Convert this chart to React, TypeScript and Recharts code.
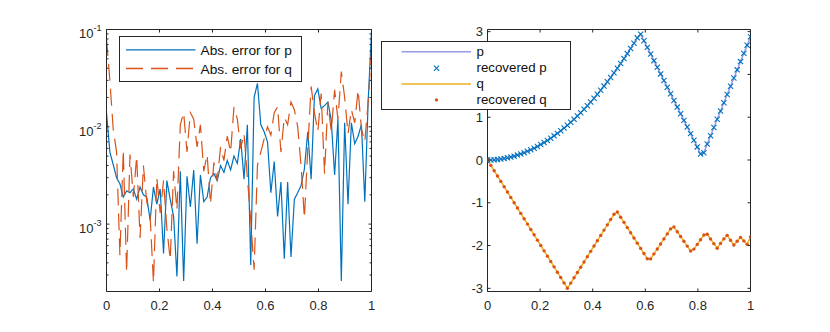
import React from 'react';
import { ComposedChart, Line, XAxis, YAxis, Legend } from 'recharts';

// ---- data ----
const xs = [
  0, 0.0127, 0.0253, 0.038, 0.0506, 0.0633, 0.0759, 0.0886, 0.1013, 0.1139,
  0.1266, 0.1392, 0.1519, 0.1646, 0.1772, 0.1899, 0.2025, 0.2152, 0.2278, 0.2405,
  0.2532, 0.2658, 0.2785, 0.2911, 0.3038, 0.3165, 0.3291, 0.3418, 0.3544, 0.3671,
  0.3797, 0.3924, 0.4051, 0.4177, 0.4304, 0.443, 0.4557, 0.4684, 0.481, 0.4937,
  0.5063, 0.519, 0.5316, 0.5443, 0.557, 0.5696, 0.5823, 0.5949, 0.6076, 0.6203,
  0.6329, 0.6456, 0.6582, 0.6709, 0.6835, 0.6962, 0.7089, 0.7215, 0.7342, 0.7468,
  0.7595, 0.7722, 0.7848, 0.7975, 0.8101, 0.8228, 0.8354, 0.8481, 0.8608, 0.8734,
  0.8861, 0.8987, 0.9114, 0.9241, 0.9367, 0.9494, 0.962, 0.9747, 0.9873, 1,
];

const pVals = [
  0, 0.001, 0.006, 0.013, 0.023, 0.035, 0.051, 0.069, 0.09, 0.114,
  0.141, 0.171, 0.203, 0.238, 0.276, 0.317, 0.361, 0.408, 0.457, 0.509,
  0.564, 0.622, 0.682, 0.746, 0.812, 0.881, 0.953, 1.028, 1.106, 1.186,
  1.269, 1.355, 1.444, 1.536, 1.63, 1.727, 1.827, 1.93, 2.036, 2.145,
  2.256, 2.37, 2.487, 2.607, 2.73, 2.855, 2.942, 2.787, 2.632, 2.477,
  2.322, 2.167, 2.012, 1.857, 1.702, 1.547, 1.391, 1.236, 1.081, 0.926,
  0.771, 0.616, 0.461, 0.306, 0.14, 0.17, 0.375, 0.568, 0.76, 0.953,
  1.145, 1.337, 1.53, 1.722, 1.915, 2.107, 2.3, 2.492, 2.684, 2.88,
];

const qVals = [
  0, -0.125, -0.25, -0.375, -0.5, -0.625, -0.749, -0.874, -0.999, -1.124,
  -1.249, -1.374, -1.499, -1.624, -1.749, -1.874, -1.999, -2.124, -2.248, -2.373,
  -2.498, -2.623, -2.748, -2.873, -2.998, -2.878, -2.754, -2.63, -2.507, -2.383,
  -2.259, -2.135, -2.011, -1.887, -1.763, -1.639, -1.516, -1.392, -1.268, -1.215,
  -1.337, -1.458, -1.58, -1.701, -1.823, -1.944, -2.066, -2.187, -2.309, -2.312,
  -2.195, -2.079, -1.962, -1.845, -1.728, -1.611, -1.564, -1.677, -1.789, -1.901,
  -2.013, -2.126, -2.083, -1.973, -1.863, -1.753, -1.737, -1.846, -1.955, -2.064,
  -1.95, -1.844, -1.762, -1.875, -1.988, -1.901, -1.81, -1.891, -1.972, -1.8,
];

const errP = [
  0.014, 0.0055, 0.0041, 0.003, 0.0026, 0.0019, 0.0022, 0.0021, 0.0023, 0.0018,
  0.0024, 0.002, 0.0019, 0.0011, 0.0024, 0.0016, 0.0023, 0.0005, 0.0028, 0.0018,
  0.0012, 0.00029, 0.0035, 0.00026, 0.0031, 0.0015, 0.0036, 0.00063, 0.0032, 0.0017,
  0.0019, 0.003, 0.0033, 0.0028, 0.004, 0.0034, 0.0045, 0.0036, 0.005, 0.0042,
  0.0075, 0.0029, 0.0105, 0.00038, 0.02, 0.028, 0.0105, 0.0089, 0.007, 0.0021,
  0.0044, 0.0012, 0.0027, 0.00044, 0.0027, 0.00046, 0.0018, 0.0021, 0.0025, 0.0037,
  0.0089, 0.0029, 0.021, 0.0245, 0.0155, 0.0165, 0.018, 0.0117, 0.0032, 0.012,
  0.00026, 0.011, 0.0016, 0.011, 0.0067, 0.008, 0.0105, 0.0017, 0.018, 0.095,
];

const errQ = [
  0.08, 0.03, 0.0095, 0.0055, 0.00048, 0.0058, 0.00032, 0.0052, 0.0019, 0.005,
  0.00072, 0.004, 0.0017, 0.0012, 0.00025, 0.003, 0.0013, 0.0028, 0.0009, 0.00043,
  0.0035, 0.0014, 0.0105, 0.014, 0.0055, 0.014, 0.012, 0.0062, 0.0105, 0.0035,
  0.0052, 0.0016, 0.0043, 0.0028, 0.0062, 0.0045, 0.008, 0.0055, 0.016, 0.012,
  0.006, 0.0085, 0.003, 0.0011, 0.00034, 0.004, 0.0055, 0.0075, 0.01, 0.0082,
  0.014, 0.016, 0.0055, 0.0125, 0.0105, 0.018, 0.015, 0.01, 0.004, 0.00115,
  0.006, 0.026, 0.014, 0.009, 0.022, 0.0033, 0.018, 0.009, 0.024, 0.012,
  0.037, 0.02, 0.0085, 0.015, 0.011, 0.024, 0.0095, 0.007, 0.018, 0.06,
];

const xTicks = [0, 0.2, 0.4, 0.6, 0.8, 1];
const xTickLabels = ['0', '0.2', '0.4', '0.6', '0.8', '1'];
const logTicks = [0.001, 0.01, 0.1];
const logTickExps = ['-3', '-2', '-1'];
const logMinorTicks = [
  0.0003, 0.0004, 0.0005, 0.0006, 0.0007, 0.0008, 0.0009,
  0.002, 0.003, 0.004, 0.005, 0.006, 0.007, 0.008, 0.009,
  0.02, 0.03, 0.04, 0.05, 0.06, 0.07, 0.08, 0.09,
];
const linTicks = [-3, -2, -1, 0, 1, 2, 3];
// the "2" label sits under the legend box in the reference, so it is not shown
const linTickLabels = ['-3', '-2', '-1', '0', '1', '', '3'];
const legendLeftLabels = ['Abs. error for p', 'Abs. error for q'];
const legendRightLabels = ['p', 'recovered p', 'q', 'recovered q'];

const errData = xs.map((x, i) => ({ x, ep: errP[i], eq: errQ[i] }));
const fnData = xs.map((x, i) => ({ x, p: pVals[i], pr: pVals[i], q: qVals[i], qr: qVals[i] }));
const allLogTicks = [...logMinorTicks, ...logTicks];

// ---- styles ----
const FONT = '"Liberation Sans", Arial, Helvetica, sans-serif';
const AX = '#262626';
const BLUE = '#0072BD';
const ORANGE = '#D95319';
const YELLOW = '#EDB120';
const LAV = '#9a9ae6';
const TICK = 3;
const MINOR = 2;
const DASH = '17 8';

const findIdx = (arr: number[], v: number) =>
  arr.findIndex((t) => Math.abs(t - v) <= Math.abs(t) * 1e-6 + 1e-12);

const bottomTick = (props: any) => {
  const { x, y, payload } = props;
  const i = findIdx(xTicks, payload.value);
  return (
    <g>
      <line x1={x} y1={y} x2={x} y2={y - TICK} stroke={AX} strokeWidth={1} />
      <text x={x} y={y + 18} textAnchor="middle" fontSize={13} fontFamily={FONT} fill={AX}>
        {i >= 0 ? xTickLabels[i] : String(payload.value)}
      </text>
    </g>
  );
};

const topTick = (props: any) => {
  const { x, y } = props;
  return <line x1={x} y1={y} x2={x} y2={y + TICK} stroke={AX} strokeWidth={1} />;
};

const leftLinTick = (props: any) => {
  const { x, y, payload } = props;
  const i = findIdx(linTicks, payload.value);
  const label = i >= 0 ? linTickLabels[i] : String(payload.value);
  return (
    <g>
      <line x1={x} y1={y} x2={x + TICK} y2={y} stroke={AX} strokeWidth={1} />
      {label !== '' && (
        <text x={x - 4.5} y={y + 4.7} textAnchor="end" fontSize={13} fontFamily={FONT} fill={AX}>
          {label}
        </text>
      )}
    </g>
  );
};

const rightTick = (props: any) => {
  const { x, y } = props;
  return <line x1={x} y1={y} x2={x - TICK} y2={y} stroke={AX} strokeWidth={1} />;
};

const logLeftTick = (props: any) => {
  const { x, y, payload } = props;
  const i = findIdx(logTicks, payload.value);
  if (i < 0) {
    return <line x1={x} y1={y} x2={x + MINOR} y2={y} stroke={AX} strokeWidth={1} />;
  }
  return (
    <g>
      <line x1={x} y1={y} x2={x + TICK} y2={y} stroke={AX} strokeWidth={1} />
      <text x={x - 5} y={y + 8.8} textAnchor="end" fontSize={13} fontFamily={FONT} fill={AX}>
        10<tspan dy={-7} fontSize={9}>{logTickExps[i]}</tspan>
      </text>
    </g>
  );
};

const logRightTick = (props: any) => {
  const { x, y, payload } = props;
  const major = findIdx(logTicks, payload.value) >= 0;
  return <line x1={x} y1={y} x2={x - (major ? TICK : MINOR)} y2={y} stroke={AX} strokeWidth={1} />;
};

const xMarkPath = (cx: number, cy: number, s: number) =>
  `M${cx - s},${cy - s}L${cx + s},${cy + s}M${cx - s},${cy + s}L${cx + s},${cy - s}`;

const xMarker = (props: any) => {
  const { cx, cy, index } = props;
  if (cx == null || cy == null) return <g key={`xm-${index}`} />;
  return <path key={`xm-${index}`} d={xMarkPath(cx, cy, 2.6)} stroke={BLUE} strokeWidth={1.1} fill="none" />;
};

const dotMarker = (props: any) => {
  const { cx, cy, index } = props;
  if (cx == null || cy == null) return <g key={`dm-${index}`} />;
  return <circle key={`dm-${index}`} cx={cx} cy={cy} r={1.7} fill={ORANGE} stroke="none" />;
};

const textStyle = { fontFamily: FONT, fontSize: 13.7, fill: '#111' } as const;
const textStyleRight = { fontFamily: FONT, fontSize: 13.3, fill: '#111' } as const;

const LeftLegendContent = () => (
  <svg width={184} height={47} style={{ display: 'block', overflow: 'visible' }}>
    <rect x={0.5} y={0.5} width={182} height={45} fill="#fff" stroke={AX} strokeWidth={1} />
    <line x1={7} y1={13.8} x2={76.5} y2={13.8} stroke={BLUE} strokeWidth={1.3} />
    <text x={81.5} y={18.8} {...textStyle}>{legendLeftLabels[0]}</text>
    <line x1={7} y1={32.5} x2={76.5} y2={32.5} stroke={ORANGE} strokeWidth={1.3} strokeDasharray={DASH} />
    <text x={81.5} y={37.5} {...textStyle}>{legendLeftLabels[1]}</text>
  </svg>
);

const RightLegendContent = () => {
  const rows = [10.7, 27.2, 43.1, 58.9];
  return (
    <svg width={191} height={70} style={{ display: 'block', overflow: 'visible' }}>
      <rect x={0.5} y={0.5} width={189} height={68} fill="#fff" stroke={AX} strokeWidth={1} />
      <line x1={20.5} y1={rows[0]} x2={90} y2={rows[0]} stroke={LAV} strokeWidth={1.5} />
      <path d={xMarkPath(55.5, rows[1], 2.6)} stroke={BLUE} strokeWidth={1.1} fill="none" />
      <line x1={20.5} y1={rows[2]} x2={90} y2={rows[2]} stroke={YELLOW} strokeWidth={1.5} />
      <circle cx={55.5} cy={rows[3]} r={1.7} fill={ORANGE} />
      {legendRightLabels.map((t, i) => (
        <text key={t} x={95.5} y={rows[i] + 4.2} {...textStyleRight}>{t}</text>
      ))}
    </svg>
  );
};

const W = 830;
const H = 332;
// plot-area edges (pixels)
const TOP = 29.5;
const BOTTOM = 291.5;
const L1 = 106.5;
const R1 = 371.5;
const L2 = 487.5;
const R2 = 750.5;
const AXW = 1; // thickness reserved for each axis

const axisCommon = {
  tickSize: 0,
  tickMargin: 0,
  tickLine: false,
  interval: 0 as const,
  allowDataOverflow: true,
  type: 'number' as const,
};

export default function App() {
  return (
    <div style={{ position: 'absolute', left: 0, top: 0, width: W, height: H, background: '#fff', overflow: 'hidden' }}>
      {/* left: absolute errors, log scale */}
      <div style={{ position: 'absolute', left: 0, top: 0 }}>
        <ComposedChart
          width={W}
          height={H}
          data={errData}
          margin={{ top: TOP - AXW, left: L1 - AXW, right: W - R1 - AXW, bottom: H - BOTTOM - AXW }}
        >
          <XAxis {...axisCommon} dataKey="x" domain={[0, 1]} ticks={xTicks} height={AXW}
            axisLine={{ stroke: AX, strokeWidth: 1 }} tick={bottomTick} />
          <XAxis {...axisCommon} xAxisId="top" orientation="top" dataKey="x" domain={[0, 1]} ticks={xTicks} height={AXW}
            axisLine={{ stroke: AX, strokeWidth: 1 }} tick={topTick} />
          <YAxis {...axisCommon} yAxisId="main" dataKey="ep" scale="log" domain={[2.03e-4, 0.1]} ticks={allLogTicks} width={AXW}
            axisLine={{ stroke: AX, strokeWidth: 1 }} tick={logLeftTick} />
          <YAxis {...axisCommon} yAxisId="right" orientation="right" dataKey="ep" scale="log" domain={[2.03e-4, 0.1]} ticks={allLogTicks} width={AXW}
            axisLine={{ stroke: AX, strokeWidth: 1 }} tick={logRightTick} />
          <Line yAxisId="main" dataKey="ep" stroke={BLUE} strokeWidth={1.2} dot={false} activeDot={false} isAnimationActive={false} />
          <Line yAxisId="main" dataKey="eq" stroke={ORANGE} strokeWidth={1.2} strokeDasharray={DASH} dot={false} activeDot={false} isAnimationActive={false} />
          <Legend layout="vertical" align="center" verticalAlign="middle" content={LeftLegendContent}
            wrapperStyle={{ position: 'absolute', left: 119, top: 36, width: 184, height: 47, margin: 0, padding: 0, lineHeight: 0 }} />
        </ComposedChart>
      </div>

      {/* right: p and q */}
      <div style={{ position: 'absolute', left: 0, top: 0 }}>
        <ComposedChart
          width={W}
          height={H}
          data={fnData}
          margin={{ top: TOP - AXW, left: L2 - AXW, right: W - R2 - AXW, bottom: H - BOTTOM - AXW }}
        >
          <XAxis {...axisCommon} dataKey="x" domain={[0, 1]} ticks={xTicks} height={AXW}
            axisLine={{ stroke: AX, strokeWidth: 1 }} tick={bottomTick} />
          <XAxis {...axisCommon} xAxisId="top" orientation="top" dataKey="x" domain={[0, 1]} ticks={xTicks} height={AXW}
            axisLine={{ stroke: AX, strokeWidth: 1 }} tick={topTick} />
          <YAxis {...axisCommon} yAxisId="main" dataKey="p" domain={[-3.074, 3.05]} ticks={linTicks} width={AXW}
            axisLine={{ stroke: AX, strokeWidth: 1 }} tick={leftLinTick} />
          <YAxis {...axisCommon} yAxisId="right" orientation="right" dataKey="p" domain={[-3.074, 3.05]} ticks={linTicks} width={AXW}
            axisLine={{ stroke: AX, strokeWidth: 1 }} tick={rightTick} />
          <Line yAxisId="main" dataKey="p" stroke={LAV} strokeWidth={1.5} dot={false} activeDot={false} isAnimationActive={false} />
          <Line yAxisId="main" dataKey="pr" stroke="none" dot={xMarker} activeDot={false} isAnimationActive={false} />
          <Line yAxisId="main" dataKey="q" stroke={YELLOW} strokeWidth={1.5} dot={false} activeDot={false} isAnimationActive={false} />
          <Line yAxisId="main" dataKey="qr" stroke="none" dot={dotMarker} activeDot={false} isAnimationActive={false} />
          <Legend layout="vertical" align="center" verticalAlign="middle" content={RightLegendContent}
            wrapperStyle={{ position: 'absolute', left: 381, top: 41, width: 191, height: 70, margin: 0, padding: 0, lineHeight: 0 }} />
        </ComposedChart>
      </div>
    </div>
  );
}
